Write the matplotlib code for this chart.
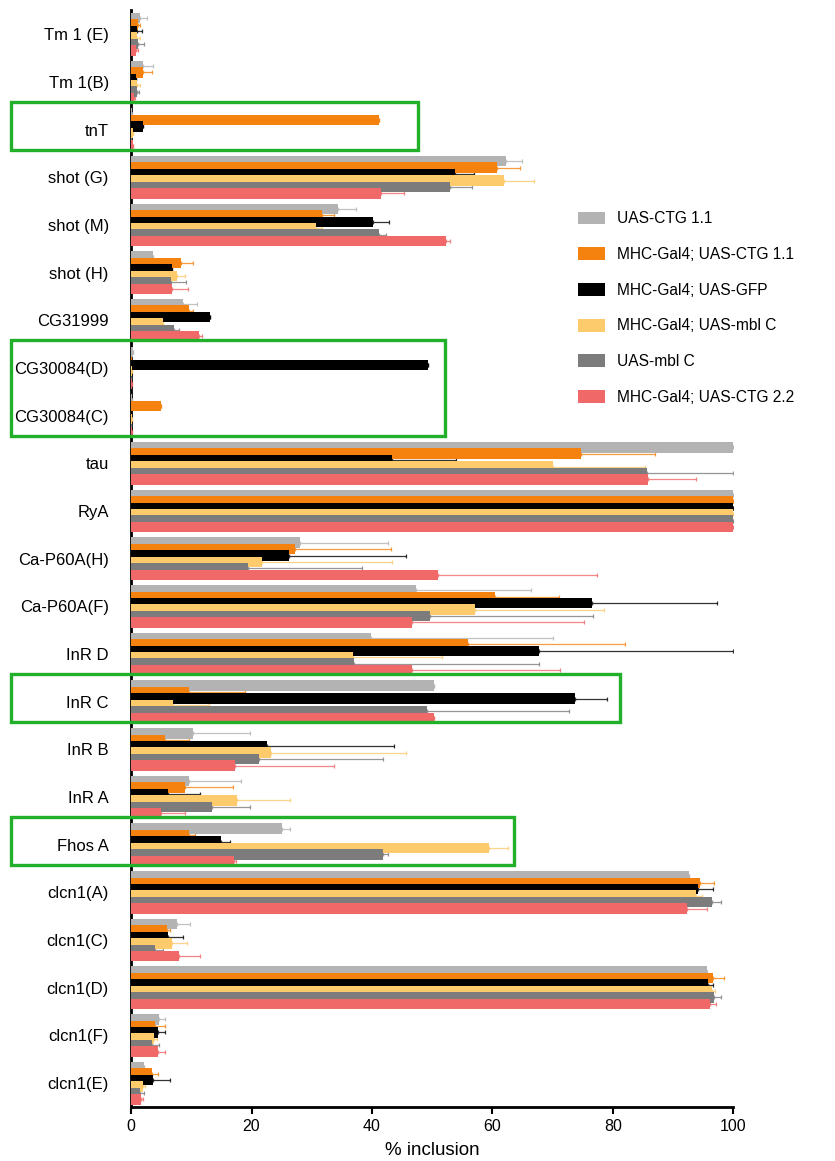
import numpy as np
import matplotlib
matplotlib.use("Agg")
import matplotlib.pyplot as plt
from matplotlib.patches import Rectangle

plt.rcParams['font.family'] = ['Liberation Sans', 'DejaVu Sans']

categories = ['Tm 1 (E)', 'Tm 1(B)', 'tnT', 'shot (G)', 'shot (M)', 'shot (H)',
              'CG31999', 'CG30084(D)', 'CG30084(C)', 'tau', 'RyA',
              'Ca-P60A(H)', 'Ca-P60A(F)', 'InR D', 'InR C', 'InR B', 'InR A',
              'Fhos A', 'clcn1(A)', 'clcn1(C)', 'clcn1(D)', 'clcn1(F)', 'clcn1(E)']

series_names = ['UAS-CTG 1.1', 'MHC-Gal4; UAS-CTG 1.1', 'MHC-Gal4; UAS-GFP',
                'MHC-Gal4; UAS-mbl C', 'UAS-mbl C', 'MHC-Gal4; UAS-CTG 2.2']
series_colors = ['#b3b3b3', '#f5820f', '#000000', '#fdca6c', '#7c7c7c', '#f06868']

uas_ctg11 = [1.5, 2.0, 0.2, 62.3, 34.4, 3.6, 8.7, 0.3, 0.2, 100, 100, 28.1, 47.3,
             39.9, 50.3, 10.3, 9.6, 25.0, 92.7, 7.7, 95.6, 4.7, 2.2]
uas_ctg11_err = [1.1, 1.6, 0, 2.7, 3.0, 0, 2.3, 0, 0, 0, 0, 14.5, 19.1,
                 30.2, 0, 9.4, 8.6, 1.4, 0, 2.1, 0, 0.9, 0]

mhc_ctg11 = [1.2, 1.9, 41.2, 60.8, 31.7, 8.3, 9.7, 0, 4.9, 74.8, 100, 27.3, 60.4,
             56.0, 9.7, 5.7, 8.9, 9.7, 94.5, 5.9, 96.7, 4.0, 3.4]
mhc_ctg11_err = [0.3, 1.5, 0, 3.8, 2.0, 1.9, 0.5, 0, 0, 12.2, 0, 15.8, 10.6,
                 26.0, 9.3, 4.0, 8.0, 0.9, 2.4, 0.5, 1.8, 1.6, 1.1]

mhc_gfp = [1.0, 0.8, 2.0, 53.8, 40.1, 6.8, 13.1, 49.3, 0, 43.4, 100, 26.2, 76.6,
           67.8, 73.7, 22.5, 6.1, 14.9, 94.2, 6.2, 95.8, 4.5, 3.7]
mhc_gfp_err = [0.8, 0, 0, 3.2, 2.8, 0, 0, 0, 0, 10.6, 0, 19.4, 20.7,
               32.2, 5.3, 21.1, 5.3, 1.5, 2.5, 2.4, 0.9, 1.1, 2.7]

mhc_mblc = [1.0, 1.0, 0.3, 62.0, 30.7, 7.6, 5.3, 0.2, 0.2, 70.1, 100, 21.8, 57.2,
            36.8, 6.9, 23.3, 17.6, 59.4, 93.8, 6.8, 96.5, 3.8, 1.9]
mhc_mblc_err = [0.5, 0.5, 0, 5.0, 1.0, 1.3, 0, 0, 0, 15.3, 0, 21.5, 21.3,
                14.8, 6.1, 22.3, 8.8, 3.2, 1.0, 2.5, 0.5, 0.5, 0.4]

uas_mblc = [1.2, 1.0, 0, 53.0, 41.2, 6.6, 7.1, 0, 0, 85.7, 100, 19.4, 49.6,
            37.0, 49.1, 21.2, 13.5, 41.8, 96.5, 4.0, 96.9, 3.5, 1.5]
uas_mblc_err = [1.0, 0.3, 0, 3.6, 1.2, 2.5, 0.9, 0, 0, 14.3, 0, 18.9, 27.2,
                30.7, 23.7, 20.6, 6.3, 0.9, 1.5, 1.3, 1.1, 1.2, 0.7]

mhc_ctg22 = [0.8, 0.5, 0.3, 41.5, 52.3, 6.8, 11.2, 0.2, 0.2, 85.8, 100, 51.0, 46.7,
             46.7, 50.3, 17.3, 4.9, 17.1, 92.3, 8.0, 96.1, 4.5, 1.6]
mhc_ctg22_err = [0.3, 0.2, 0, 3.8, 0.7, 2.6, 0.6, 0, 0, 8.0, 0, 26.4, 28.6,
                 24.5, 0, 16.4, 4.0, 0.3, 3.3, 3.4, 1.1, 1.2, 0.3]

values = [uas_ctg11, mhc_ctg11, mhc_gfp, mhc_mblc, uas_mblc, mhc_ctg22]
errors = [uas_ctg11_err, mhc_ctg11_err, mhc_gfp_err, mhc_mblc_err, uas_mblc_err, mhc_ctg22_err]

# highlighted groups: (first category, last category, right edge in % units)
boxes = [('tnT', 'tnT', 47.7), ('CG30084(D)', 'CG30084(C)', 52.2),
         ('InR C', 'InR C', 81.2), ('Fhos A', 'Fhos A', 63.6)]

fig = plt.figure(figsize=(8.35, 11.61), dpi=100)
ax = fig.add_axes([0.157, 0.0465, 0.721, 0.9445])

y = np.arange(len(categories))
step = 0.135
height = 0.22
for k, (vals, errs, name, col) in enumerate(zip(values, errors, series_names, series_colors)):
    pos = y + (k - 2.5) * step
    ax.barh(pos, vals, height=height, color=col, label=name, zorder=3)
    errs = np.array(errs)
    ax.errorbar(vals, pos, xerr=[np.zeros_like(errs), errs], fmt='none',
                ecolor=col, elinewidth=0.9, capsize=1.2, capthick=0.9, zorder=2.8,
                alpha=0.8)

ax.set_ylim(len(categories) - 0.5, -0.5)
ax.set_xlim(0, 100)
ax.set_yticks(y)
ax.set_yticklabels(categories, fontsize=12)
ax.tick_params(axis='y', length=0, pad=16)
ax.set_xticks([0, 20, 40, 60, 80, 100])
ax.tick_params(axis='x', labelsize=11.5, width=1.5, length=5, direction='out')
ax.set_xlabel('% inclusion', fontsize=13.5, labelpad=6)

for s in ['top', 'right']:
    ax.spines[s].set_visible(False)
ax.spines['left'].set_linewidth(2)
ax.spines['bottom'].set_linewidth(2)
ax.spines['left'].set_zorder(1)

ax.legend(loc='upper left', bbox_to_anchor=(0.675, 0.830), bbox_transform=fig.transFigure,
          frameon=False, fontsize=11.2, handlelength=1.75, handleheight=0.9,
          labelspacing=1.33, handletextpad=0.75)

# green highlight boxes
fig.canvas.draw()
to_fig = ax.transData + fig.transFigure.inverted()
cat_index = {c: i for i, c in enumerate(categories)}
left_edge = 11 / 835
for first, last, xr in boxes:
    x1, ytop = to_fig.transform((xr, cat_index[first] - 0.58))
    _, ybot = to_fig.transform((xr, cat_index[last] + 0.43))
    rect = Rectangle((left_edge, ybot), x1 - left_edge, ytop - ybot,
                     transform=fig.transFigure, fill=False, edgecolor='#22b02a',
                     linewidth=2.4, clip_on=False, zorder=10)
    fig.patches.append(rect)

fig.savefig('out.png', dpi=100)
